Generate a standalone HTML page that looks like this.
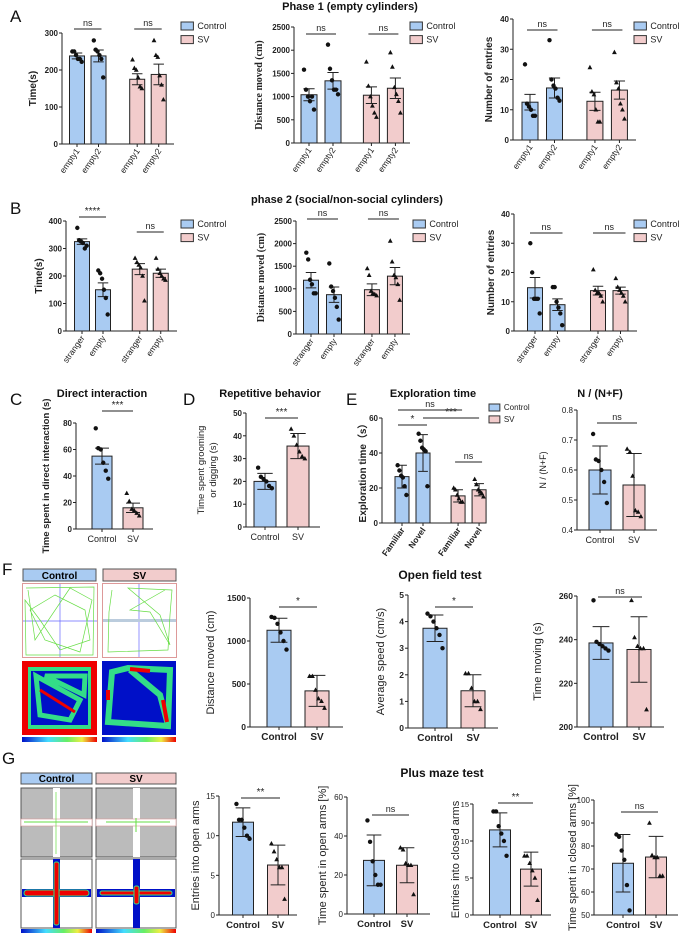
<!DOCTYPE html>
<html><head><meta charset="utf-8"><style>
html,body{margin:0;padding:0;background:#fff;}
svg{display:block;font-family:"Liberation Sans",sans-serif;}
</style></head><body>
<svg id="fig" width="679" height="940" viewBox="0 0 679 940" xmlns="http://www.w3.org/2000/svg">
<g font-size="17" fill="#111">
<text x="10" y="22">A</text>
<text x="10" y="214">B</text>
<text x="10" y="405">C</text>
<text x="183" y="405">D</text>
<text x="346" y="405">E</text>
<text x="2" y="575">F</text>
<text x="2" y="764">G</text>
</g>
<g font-weight="bold" font-size="11" fill="#111" text-anchor="middle">
<text x="350" y="10">Phase 1 (empty cylinders)</text>
<text x="347" y="203">phase 2  (social/non-social cylinders)</text>
<text x="102" y="397">Direct interaction</text>
<text x="270" y="397">Repetitive behavior</text>
<text x="433" y="397">Exploration time</text>
<text x="600" y="397">N / (N+F)</text>
<text x="440" y="579" font-size="12">Open field test</text>
<text x="442" y="777" font-size="12">Plus maze test</text>
</g>

<!-- F images -->
<g>
<rect x="23" y="569" width="73" height="12" fill="#a9cbf2" stroke="#555"/>
<text x="59.5" y="579" font-size="10" font-weight="bold" text-anchor="middle">Control</text>
<rect x="103" y="569" width="73" height="12" fill="#f2cccc" stroke="#555"/>
<text x="139.5" y="579" font-size="10" font-weight="bold" text-anchor="middle">SV</text>
<g>
<rect x="22.5" y="583.5" width="75" height="74" fill="#fff" stroke="#d99" />
<line x1="60" y1="584" x2="60" y2="657" stroke="#66f" stroke-width="0.7"/><line x1="23" y1="621" x2="97" y2="621" stroke="#66f" stroke-width="0.7"/>
<polyline fill="none" stroke="#6d4" stroke-width="0.7" points="26,588 94,587 93,655 26,655 25,600 40,620 60,650 90,640 85,610 55,595 30,610 45,640 80,652 92,600 70,588 35,640 28,590"/>
</g>
<g>
<rect x="102.5" y="583.5" width="74" height="74" fill="#fff" stroke="#d99"/>
<line x1="139" y1="584" x2="139" y2="657" stroke="#66f" stroke-width="0.7"/><rect x="103" y="619" width="73" height="3" fill="#bcd"/>
<polyline fill="none" stroke="#6d4" stroke-width="0.7" points="112,590 109,612 108,652 168,650 170,615 172,590 128,588 160,615 170,645 150,612 130,610 165,590"/>
</g>
<g>
<rect x="22" y="661" width="75" height="74" fill="#e00"/>
<rect x="28" y="667" width="63" height="62" fill="#3d8" />
<rect x="31" y="671" width="57" height="54" fill="#0010c8"/>
<path d="M36 676 L80 700 L70 720 L40 715 Z M45 676 L85 676 L84 695 Z" fill="none" stroke="#3d8" stroke-width="5"/>
<path d="M40 690 L75 712" stroke="#e00" stroke-width="3"/>
</g>
<g>
<rect x="102" y="661" width="74" height="74" fill="#0010c8"/>
<path d="M112 672 L108 722 L168 726 L170 670 L128 668 Z M130 670 L160 695 L168 725" fill="none" stroke="#3d8" stroke-width="6"/>
<path d="M130 669 L150 671 M163 700 L167 722 M108 690 L108 700" stroke="#e00" stroke-width="4"/>
</g>
<defs><linearGradient id="cb" x1="0" x2="1"><stop offset="0" stop-color="#0010c8"/><stop offset="0.35" stop-color="#4df"/><stop offset="0.6" stop-color="#6e6"/><stop offset="0.8" stop-color="#ee4"/><stop offset="1" stop-color="#e00"/></linearGradient></defs>
<rect x="22" y="737" width="75" height="5" fill="url(#cb)"/>
<rect x="102" y="737" width="74" height="5" fill="url(#cb)"/>
</g>

<!-- G images -->
<g>
<rect x="21" y="773" width="71" height="11" fill="#a9cbf2" stroke="#555"/>
<text x="56.5" y="782" font-size="10" font-weight="bold" text-anchor="middle">Control</text>
<rect x="96" y="773" width="80" height="11" fill="#f2cccc" stroke="#555"/>
<text x="136" y="782" font-size="10" font-weight="bold" text-anchor="middle">SV</text>
<g>
<rect x="21" y="788" width="71" height="69" fill="#bbb" stroke="#555"/>
<rect x="53" y="788" width="7" height="69" fill="#fff"/><rect x="21" y="819" width="71" height="7" fill="#fff" stroke="#d99" stroke-width="0.6"/>
<line x1="24" y1="822" x2="88" y2="822" stroke="#6d4"/><line x1="56" y1="792" x2="56" y2="854" stroke="#6d4" stroke-width="0.7"/>
</g>
<g>
<rect x="96" y="788" width="80" height="69" fill="#bbb" stroke="#555"/>
<rect x="133" y="788" width="7" height="69" fill="#fff"/><rect x="96" y="819" width="80" height="7" fill="#fff" stroke="#d99" stroke-width="0.6"/>
<line x1="106" y1="822" x2="170" y2="822" stroke="#6d4"/><line x1="136" y1="818" x2="136" y2="832" stroke="#6d4"/>
</g>
<g>
<rect x="21" y="859" width="71" height="69" fill="#fff" stroke="#555"/>
<rect x="53" y="859" width="7" height="69" fill="#0010c8"/><rect x="21" y="819" width="0" height="0"/>
<rect x="22" y="889" width="69" height="8" fill="#0010c8"/>
<rect x="24" y="890" width="65" height="6" rx="3" fill="#e00" stroke="#3d8"/>
<rect x="54" y="862" width="5" height="63" rx="2" fill="#e00" stroke="#3d8"/>
</g>
<g>
<rect x="96" y="859" width="80" height="69" fill="#fff" stroke="#555"/>
<rect x="133" y="859" width="7" height="69" fill="#0010c8"/>
<rect x="97" y="889" width="78" height="8" fill="#0010c8"/>
<rect x="100" y="891" width="72" height="4" rx="2" fill="#e00" stroke="#3d8"/>
<rect x="134" y="886" width="5" height="18" rx="2" fill="#e00" stroke="#3d8"/>
</g>
<rect x="21" y="929" width="71" height="4" fill="url(#cb)"/>
<rect x="96" y="929" width="80" height="4" fill="url(#cb)"/>
</g>
<g id="charts"></g>
</svg>
<script>
// ---- data ----
const abCats1 = ["empty1","empty2","empty1","empty2"];
const abCats2 = ["stranger","empty","stranger","empty"];
const eCats = ["Familiar","Novel","Familiar","Novel"];
const twoCats = ["Control","SV"];

const a1Means = [238,238,175,188];
const a1Errs = [8,16,15,28];
const a1Pts = [[250,250,240,230,230,222],[280,255,250,240,230,180],[228,205,200,180,155,150],[280,240,235,185,160,120]];
const a1Ticks = [0,100,200,300];

const a2Means = [1040,1340,1030,1180];
const a2Errs = [130,180,180,220];
const a2Pts = [[1580,1150,1000,900,1000,720],[2120,1600,1350,1150,1150,1050],[1750,1230,1000,800,650,560],[1950,1640,1200,1050,900,650]];
const a2Ticks = [0,500,1000,1500,2000,2500];

const a3Means = [12.5,17.2,12.8,16.5];
const a3Errs = [2.6,3.3,3,3];
const a3Pts = [[25,12,11,10,8,8],[33,20,18,17,14,13],[24,16,15,10,6,6],[29,19,17,12,10,7]];
const a3Ticks = [0,10,20,30,40];

const b1Means = [325,150,225,210];
const b1Errs = [10,25,20,15];
const b1Pts = [[375,330,325,320,300,310],[220,210,190,150,120,60],[265,250,240,230,200,110],[265,225,210,200,190,185]];
const b1Ticks = [0,100,200,300,400];

const b2Means = [1190,870,980,1280];
const b2Errs = [170,170,130,190];
const b2Pts = [[1800,1650,1200,1100,900,900],[1560,1050,950,800,600,320],[1450,1300,950,900,880,850],[2060,1600,1300,1250,1100,750]];
const b2Ticks = [0,500,1000,1500,2000,2500];

const b3Means = [14.8,9,13.8,13.8];
const b3Errs = [3.5,2,1.5,1.2];
const b3Pts = [[30,20,11,11,11,6],[15,15,10,8,6,2],[21,14,13,13,12,10],[18,15,14,13,12,10]];
const b3Ticks = [0,10,20,30,40];

const cMeans = [55,16];
const cErrs = [6,3.5];
const cPts = [[76,61,60,50,44,38],[27,21,15,14,12,10]];
const cTicks = [0,20,40,60,80];

const dMeans = [20,35.5];
const dErrs = [3.5,5.5];
const dPts = [[26,22,21,20,18,17],[43,40,36,33,31,30]];
const dTicks = [0,10,20,30,40,50];

const eMeans = [26.5,40,15.5,19];
const eErrs = [6.5,10.5,3.5,3.5];
const ePts = [[33,30,27,26,21,16],[51,47,43,42,41,21],[20,19,16,14,12,12],[25,22,19,18,17,15]];
const eTicks = [0,20,40,60];

const nMeans = [0.6,0.55];
const nErrs = [0.08,0.105];
const nPts = [[0.72,0.635,0.63,0.6,0.56,0.49],[0.67,0.66,0.58,0.465,0.46,0.445]];
const nTicks = [0.4,0.5,0.6,0.7,0.8];

const f1Means = [1125,420];
const f1Errs = [140,180];
const f1Pts = [[1280,1270,1200,1100,1000,900],[590,590,430,330,300,220]];
const f1Ticks = [0,500,1000,1500];

const f2Means = [3.75,1.4];
const f2Errs = [0.5,0.6];
const f2Pts = [[4.3,4.2,4.0,3.75,3.5,3.0],[2.05,2.05,1.5,1.0,1.0,0.7]];
const f2Ticks = [0,1,2,3,4,5];

const f3Means = [238.5,235.5];
const f3Errs = [7.5,15];
const f3Pts = [[258,239,238,237,236,235],[258,241,237,236,236,208]];
const f3Ticks = [200,220,240,260];

const g1Means = [11.7,6.3];
const g1Errs = [1.8,2.5];
const g1Pts = [[14,12,12,11,10,9.6],[9,8,7,6,6,2]];
const g1Ticks = [0,5,10,15];

const g2Means = [27.5,25];
const g2Errs = [13,9];
const g2Pts = [[48,37,27,20,15,15],[34,33,26,25,25,10]];
const g2Ticks = [0,20,40,60];

const g3Means = [11.5,6.2];
const g3Errs = [2.3,2.3];
const g3Pts = [[14,14,12,11,10,8],[8,8,7,6,5,2]];
const g3Ticks = [0,5,10,15];

const g4Means = [72.5,75.2];
const g4Errs = [12.5,9];
const g4Pts = [[85,84,78,74,63,52],[90,76,75,75,67,67]];
const g4Ticks = [50,60,70,80,90,100];

// ---- drawing ----
const NS = "http://www.w3.org/2000/svg";
const root = document.getElementById("charts");
function mk(tag, attrs, parent){
  const e = document.createElementNS(NS, tag);
  for (const k in attrs) e.setAttribute(k, attrs[k]);
  parent.appendChild(e);
  return e;
}
const BLUE = "#a9cbf2", PINK = "#f2cccc";

function chart(s){
  const g = mk("g", {}, root);
  
  
  const lo = s.ticks[0], hi = s.ticks[s.ticks.length-1];
  const y = v => s.y0 - (v - lo) / (hi - lo) * (s.y0 - s.yt);
  const n = s.means.length;
  const x = i => s.ax + s.pad + (i + (n === 4 && i >= 2 ? s.gap : 0)) * s.step;
  const fs = s.fs || 9;
  // axes
  const ya = mk("line", {x1:s.ax, y1:s.y0, x2:s.ax, y2:s.yt, stroke:"#222", "stroke-width":1}, g);
  
  
  const xa = mk("line", {x1:s.ax, y1:s.y0, x2:s.xend, y2:s.y0, stroke:"#222", "stroke-width":1}, g);
  
  
  s.ticks.forEach(t => {
    mk("line", {x1:s.ax-3, y1:y(t), x2:s.ax, y2:y(t), stroke:"#222"}, g);
    const tl = mk("text", {x:s.ax-4, y:y(t)+3, "font-size":fs, "text-anchor":"end", "font-weight":s.tb?"bold":"normal", fill:"#222"}, g);
    tl.textContent = t;
    
    
  });
  // y label
  const yl = mk("text", {x:0, y:0, transform:`translate(${s.ylx},${(s.y0+s.yt)/2}) rotate(-90)`, "text-anchor":"middle", "font-size":s.ylfs||10, "font-weight":s.ylb?"bold":"normal", "font-family":s.serif?'"Liberation Serif",serif':'"Liberation Sans",sans-serif', fill:"#222"}, g);
  
  
  if (Array.isArray(s.ylabel)) {
    s.ylabel.forEach((ln, k) => { const ts = mk("tspan", {x:0, dy: k===0? -6 : 12}, yl); ts.textContent = ln; });
  } else yl.textContent = s.ylabel;
  // bars
  for (let i = 0; i < n; i++) {
    const grp = i < n/2 ? 0 : 1;
    const cx = x(i), m = s.means[i], e = s.errs[i];
    const b = mk("rect", {x:cx - s.bw/2, y:y(m), width:s.bw, height:s.y0 - y(m), fill:grp? PINK:BLUE, stroke:"#222", "stroke-width":1}, g);
    
    
    const cw = s.bw * 0.35;
    const eb = mk("path", {d:`M${cx} ${y(m-e)}V${y(m+e)}M${cx-cw} ${y(m+e)}H${cx+cw}M${cx-cw} ${y(m-e)}H${cx+cw}`, stroke:"#222", fill:"none", "stroke-width":1}, g);
    
    
    mk("line", {x1:cx, y1:s.y0, x2:cx, y2:s.y0+3, stroke:"#222"}, g);
    s.pts[i].forEach((v, k) => {
      const px = cx + (k - 2.5) * s.bw / 8, py = y(v);
      let p;
      if (grp === 0) p = mk("circle", {cx:px, cy:py, r:2.2, fill:"#111"}, g);
      else p = mk("path", {d:`M${px} ${py-2.6}L${px+2.4} ${py+1.8}L${px-2.4} ${py+1.8}Z`, fill:"#111"}, g);
      
      
    });
    const tl = mk("text", {"font-size":s.xfs||9, fill:"#222", "font-weight":s.xb?"bold":"normal"}, g);
    tl.textContent = s.cats[i];
    
    
    if (s.rot) {
      tl.setAttribute("text-anchor", "end");
      tl.setAttribute("transform", `translate(${cx+3},${s.y0+7}) rotate(-55)`);
    } else {
      tl.setAttribute("text-anchor", "middle");
      tl.setAttribute("x", cx); tl.setAttribute("y", s.y0 + 13);
    }
  }
  // significance
  (s.sig||[]).forEach(sg => {
    const x1 = x(sg[0]) - (sg[3]||0), x2 = x(sg[1]) + (sg[3]||0);
    const ln = mk("line", {x1:x1, y1:sg[2], x2:x2, y2:sg[2], stroke:"#222", "stroke-width":1}, g);
    
    
    const st = mk("text", {x:(x1+x2)/2, y:sg[2]-3, "text-anchor":"middle", "font-size":sg[4]==="ns"?9:10, fill:"#222"}, g);
    st.textContent = sg[4];
    
    
  });
  // legend
  if (s.leg) {
    const lg = mk("g", {}, g);
    
    
    const h = s.leg[2];
    twoCats.forEach((c, k) => {
      const ly = s.leg[1] + k * h * 1.7;
      const r = mk("rect", {x:s.leg[0], y:ly, width:h*1.55, height:h, fill:k?PINK:BLUE, stroke:"#333"}, lg);
      
      
      const t = mk("text", {x:s.leg[0] + h*1.55 + 4, y:ly + h - 1, "font-size":h+1, fill:"#222"}, lg);
      t.textContent = c;
      
      
    });
  }
}

chart({name:"chart-a1-time", cats:abCats1, means:a1Means, errs:a1Errs, pts:a1Pts, ticks:a1Ticks,
  ax:62, xend:174, y0:144, yt:33, pad:15, step:21.5, gap:0.8, bw:15, ylx:36, ylabel:"Time(s)", ylb:true, tb:true, rot:true, fs:8, xfs:8.5,
  sig:[[0,1,29,3,"ns"],[2,3,29,3,"ns"]], leg:[181,22,8]});
chart({name:"chart-a2-distance", cats:abCats1, means:a2Means, errs:a2Errs, pts:a2Pts, ticks:a2Ticks,
  ax:294, xend:410, y0:143, yt:27, pad:15, step:24, gap:0.6, bw:16, ylx:262, ylabel:"Distance moved (cm)", ylb:true, serif:true, tb:true, rot:true, fs:8, xfs:8.5,
  sig:[[0,1,34,3,"ns"],[2,3,34,3,"ns"]], leg:[410,22,8]});
chart({name:"chart-a3-entries", cats:abCats1, means:a3Means, errs:a3Errs, pts:a3Pts, ticks:a3Ticks,
  ax:513, xend:636, y0:140, yt:19, pad:17, step:24.5, gap:0.65, bw:16, ylx:492, ylabel:"Number of entries", ylb:true, tb:true, rot:true, fs:8, xfs:8.5,
  sig:[[0,1,30,3,"ns"],[2,3,30,3,"ns"]], leg:[634,22,8]});

chart({name:"chart-b1-time", cats:abCats2, means:b1Means, errs:b1Errs, pts:b1Pts, ticks:b1Ticks,
  ax:66, xend:177, y0:331, yt:221, pad:16, step:21, gap:0.75, bw:15, ylx:42, ylabel:"Time(s)", ylb:true, tb:true, rot:true, fs:8, xfs:8.5,
  sig:[[0,1,217,3,"****"],[2,3,232,3,"ns"]], leg:[181,220,8]});
chart({name:"chart-b2-distance", cats:abCats2, means:b2Means, errs:b2Errs, pts:b2Pts, ticks:b2Ticks,
  ax:296, xend:410, y0:334, yt:221, pad:15, step:23, gap:0.65, bw:15, ylx:264, ylabel:"Distance moved (cm)", ylb:true, serif:true, tb:true, rot:true, fs:8, xfs:8.5,
  sig:[[0,1,219,4,"ns"],[2,3,219,4,"ns"]], leg:[413,220,8]});
chart({name:"chart-b3-entries", cats:abCats2, means:b3Means, errs:b3Errs, pts:b3Pts, ticks:b3Ticks,
  ax:514, xend:637, y0:331, yt:214, pad:21, step:22.5, gap:0.8, bw:15, ylx:494, ylabel:"Number of entries", ylb:true, tb:true, rot:true, fs:8, xfs:8.5,
  sig:[[0,1,233,5,"ns"],[2,3,233,5,"ns"]], leg:[634,220,8]});

chart({name:"chart-c-direct-interaction", cats:twoCats, means:cMeans, errs:cErrs, pts:cPts, ticks:cTicks,
  ax:76, xend:153, y0:529, yt:423, pad:26, step:31, bw:20, ylx:49, ylabel:"Time spent in direct interaction (s)", ylfs:9.5, ylb:true, tb:true, fs:8,
  sig:[[0,1,411,0,"***"]]});
chart({name:"chart-d-repetitive", cats:twoCats, means:dMeans, errs:dErrs, pts:dPts, ticks:dTicks,
  ax:246, xend:320, y0:527, yt:413, pad:19, step:33, bw:22, ylx:210, ylabel:["Time spent grooming","or digging (s)"], ylfs:9.5, tb:true, fs:8,
  sig:[[0,1,418,0,"***"]]});
chart({name:"chart-e-exploration", cats:eCats, means:eMeans, errs:eErrs, pts:ePts, ticks:eTicks,
  ax:382, xend:486, y0:523, yt:418, pad:20, step:21, gap:0.67, bw:14, ylx:366, ylabel:"Exploration time（s）", ylb:true, ylfs:10, tb:true, fs:8, rot:true, xfs:8.5, xb:true,
  sig:[[0,2,410,4,"ns"],[0,1,425,4,"*"],[1,3,418,0,"***"],[2,3,462,3,"ns"]], leg:[489,404,7]});
chart({name:"chart-e-nf-ratio", cats:twoCats, means:nMeans, errs:nErrs, pts:nPts, ticks:nTicks,
  ax:577, xend:657, y0:530, yt:410, pad:23, step:34, bw:22, ylx:546, ylabel:"N / (N+F)", ylfs:9, fs:8,
  sig:[[0,1,423,3,"ns"]]});

chart({name:"chart-f-distance", cats:twoCats, means:f1Means, errs:f1Errs, pts:f1Pts, ticks:f1Ticks,
  ax:250, xend:343, y0:727, yt:598, pad:29, step:38, bw:24, ylx:214, ylabel:"Distance moved (cm)", ylfs:11, tb:true, fs:8.5, xb:true, xfs:10,
  sig:[[0,1,607,0,"*"]]});
chart({name:"chart-f-speed", cats:twoCats, means:f2Means, errs:f2Errs, pts:f2Pts, ticks:f2Ticks,
  ax:408, xend:498, y0:728, yt:595, pad:27, step:38, bw:24, ylx:384, ylabel:"Average speed (cm/s)", ylfs:11, tb:true, fs:8.5, xb:true, xfs:10,
  sig:[[0,1,607,0,"*"]]});
chart({name:"chart-f-time-moving", cats:twoCats, means:f3Means, errs:f3Errs, pts:f3Pts, ticks:f3Ticks,
  ax:577, xend:664, y0:727, yt:596, pad:24, step:38, bw:24, ylx:541, ylabel:"Time moving (s)", ylfs:11, tb:true, fs:8.5, xb:true, xfs:10,
  sig:[[0,1,597,3,"ns"]]});

chart({name:"chart-g-open-entries", cats:twoCats, means:g1Means, errs:g1Errs, pts:g1Pts, ticks:g1Ticks,
  ax:219, xend:297, y0:915, yt:796, pad:24, step:35, bw:21, ylx:199, ylabel:"Entries into open arms", ylfs:11, fs:8, xb:true, xfs:9.5,
  sig:[[0,1,798,2,"**"]]});
chart({name:"chart-g-open-time", cats:twoCats, means:g2Means, errs:g2Errs, pts:g2Pts, ticks:g2Ticks,
  ax:347, xend:430, y0:914, yt:797, pad:27, step:33, bw:21, ylx:326, ylabel:"Time spent in open arms [%]", ylfs:11, fs:8, xb:true, xfs:9.5,
  sig:[[0,1,815,2,"ns"]]});
chart({name:"chart-g-closed-entries", cats:twoCats, means:g3Means, errs:g3Errs, pts:g3Pts, ticks:g3Ticks,
  ax:473, xend:551, y0:915, yt:804, pad:27, step:31, bw:21, ylx:459, ylabel:"Entries into closed arms", ylfs:11, fs:7.5, xb:true, xfs:9.5,
  sig:[[0,1,803,2,"**"]]});
chart({name:"chart-g-closed-time", cats:twoCats, means:g4Means, errs:g4Errs, pts:g4Pts, ticks:g4Ticks,
  ax:594, xend:678, y0:915, yt:800, pad:29, step:33, bw:21, ylx:576, ylabel:"Time spent in closed arms [%]", ylfs:11, fs:8, xb:true, xfs:9.5,
  sig:[[0,1,812,2,"ns"]]});
</script>
</body></html>
